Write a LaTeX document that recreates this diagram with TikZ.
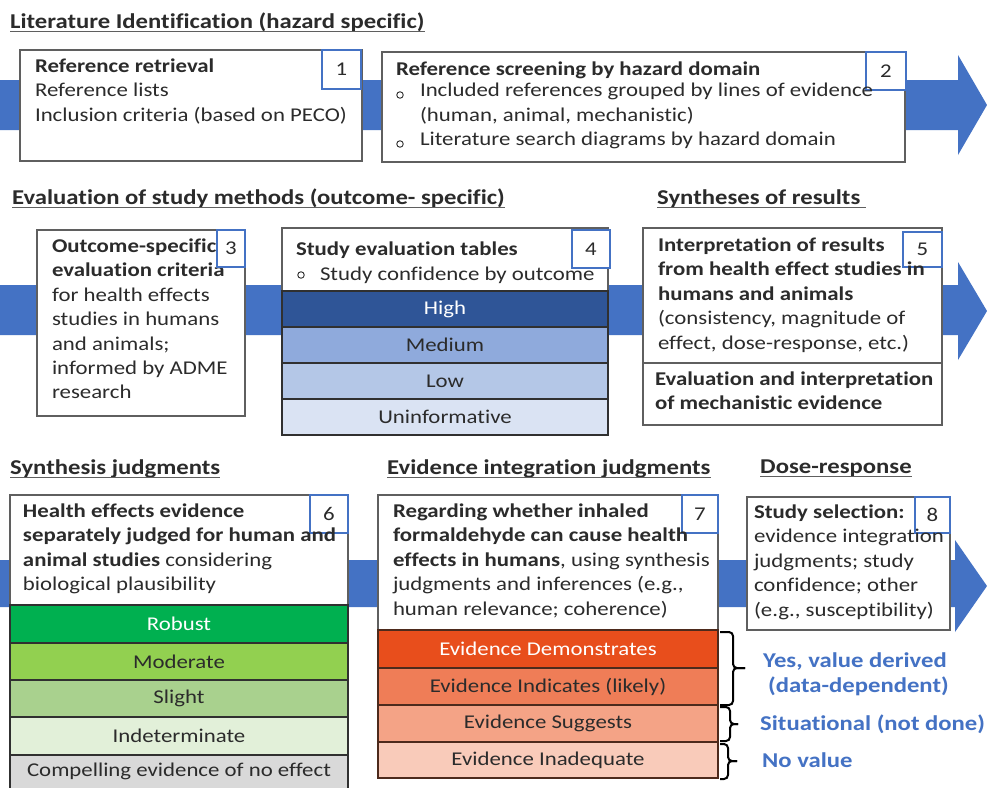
\documentclass[tikz,border=0pt]{standalone}
\usepackage{fontspec}
\setmainfont{Carlito}[FakeStretch=1.17, Ligatures=NoCommon]
\usetikzlibrary{calc}
\definecolor{band}{HTML}{4472C4}
\definecolor{bord}{HTML}{5F5F5F}
\definecolor{txt}{HTML}{2B2B2B}
\definecolor{rowline}{HTML}{303030}
\definecolor{rowlineb}{HTML}{4D2A1C}
\definecolor{cHigh}{HTML}{2F5597}
\definecolor{cMed}{HTML}{8FAADC}
\definecolor{cLow}{HTML}{B4C7E7}
\definecolor{cUn}{HTML}{DAE3F3}
\definecolor{cRob}{HTML}{00B050}
\definecolor{cMod}{HTML}{92D050}
\definecolor{cSli}{HTML}{A9D18E}
\definecolor{cInd}{HTML}{E2F0D9}
\definecolor{cCom}{HTML}{D9D9D9}
\definecolor{cDem}{HTML}{E84E1C}
\definecolor{cIndic}{HTML}{EF7D57}
\definecolor{cSug}{HTML}{F4A386}
\definecolor{cInad}{HTML}{F9CBBA}
\newcommand\fs{\fontsize{19.5}{24.4}\selectfont}
\newcommand\fh{\fontsize{21.1}{24.4}\selectfont}
\begin{document}
\begin{tikzpicture}[x=1pt,y=-1pt,
  box/.style={draw=bord, line width=1.4pt, fill=white, inner sep=0pt, outer sep=0pt, anchor=north west},
  numbox/.style={draw=band, line width=2pt, fill=white, inner sep=0pt, outer sep=0pt, anchor=north west, font=\fs, text=txt},
  blk/.style={anchor=north west, inner sep=0pt, outer sep=0pt, align=left, font=\fs, text=txt, execute at begin node=\strut},
  head/.style={anchor=base west, inner sep=0pt, font=\fh\bfseries, text=txt},
  uline/.style={draw=bord, line width=1.6pt},
  lvl/.style={draw=rowline, line width=1.3pt, inner sep=0pt, outer sep=0pt, anchor=north west, font=\fs, text=txt},
  lvlb/.style={lvl, draw=rowlineb},
  bul/.style={circle, draw=txt, line width=0.9pt, inner sep=0pt, minimum size=6.5pt},
  blab/.style={anchor=base west, inner sep=0pt, font=\fh\bfseries, text=band},
  bracestyle/.style={draw=black, line width=2pt, rounded corners=4pt},
  bandstyle/.style={fill=band, draw=none}
]
\useasboundingbox (0,0) rectangle (987,787);
\fill[white] (0,0) rectangle (987,787);

% ---------- bands ----------
\path[bandstyle] (0,80) -- (958,80) -- (958,55) -- (987,105) -- (958,155) -- (958,130) -- (0,130) -- cycle;
\path[bandstyle] (0,285) -- (958,285) -- (958,262) -- (987,311) -- (958,360) -- (958,335) -- (0,335) -- cycle;
\path[bandstyle] (0,560) -- (955,560) -- (955,540) -- (987,586) -- (955,632) -- (955,607) -- (0,607) -- cycle;

% ---------- headings ----------
\node[head] (h1) at (10,28) {Literature Identification (hazard specific)};
\node[head] (h2) at (12,204) {Evaluation of study methods (outcome- specific)};
\node[head] (h3) at (657,204) {Syntheses of results};
\node[head] (h4) at (10,474) {Synthesis judgments};
\node[head] (h5) at (387,474) {Evidence integration judgments};
\node[head] (h6) at (760,473) {Dose-response};
\foreach \h/\e in {h1/0,h2/0,h3/5,h4/0,h5/0,h6/0}{
  \draw[uline] ([yshift=-3.5pt]\h.base west) -- ([yshift=-3.5pt,xshift=\e pt]\h.base east);
}

% ---------- row 1 ----------
\node[box, minimum width=342pt, minimum height=111pt] (b1) at (20,50) {};
\node[numbox, minimum width=39pt, minimum height=39pt] (n1) at (322,50) {1};
\node[blk] (t1) at (35,58.9) {\textbf{Reference retrieval}\\Reference lists\\Inclusion criteria (based on PECO)};

\node[box, minimum width=523pt, minimum height=110pt] (b2) at (382,52) {};
\node[numbox, minimum width=40pt, minimum height=38pt] (n2) at (866,52) {2};
\node[blk] (t2a) at (396,58.9) {\textbf{Reference screening by hazard domain}};
\node[blk] (t2b) at (420,83.3) {Included references grouped by lines of evidence\\(human, animal, mechanistic)\\Literature search diagrams by hazard domain};
\node[bul] (u2a) at (400,95) {};
\node[bul] (u2b) at (400,144) {};

% ---------- row 2 ----------
\node[box, minimum width=208pt, minimum height=186pt] (b3) at (37,230) {};
\node[blk] (t3) at (52,238.9) {\textbf{Outcome-specific}\\\textbf{evaluation criteria}\\for health effects\\studies in humans\\and animals;\\informed by ADME\\research};
\node[numbox, minimum width=28pt, minimum height=37pt, fill=none] (n3) at (217,230) {3};

\node[box, minimum width=326pt, minimum height=207pt] (b4) at (282,228) {};
\node[lvl, fill=cHigh, text=white, minimum width=326pt, minimum height=36pt] (r4a) at (282,291) {High};
\node[lvl, fill=cMed, minimum width=326pt, minimum height=36pt] (r4b) at (282,327) {Medium};
\node[lvl, fill=cLow, minimum width=326pt, minimum height=36pt] (r4c) at (282,363) {Low};
\node[lvl, fill=cUn, minimum width=326pt, minimum height=36pt] (r4d) at (282,399) {Uninformative};
\node[numbox, minimum width=38pt, minimum height=38pt] (n4) at (572,230) {4};
\node[blk] (t4a) at (296,238.9) {\textbf{Study evaluation tables}};
\node[blk] (t4b) at (320,263) {Study confidence by outcome};
\node[bul] (u4) at (301,275) {};

\node[box, minimum width=299pt, minimum height=197pt] (b5) at (643,228) {};
\draw[draw=bord, line width=1.4pt] (b5.west |- 0,363) -- (b5.east |- 0,363);
\node[numbox, minimum width=39pt, minimum height=35pt] (n5) at (903,232) {5};
\node[blk] (t5a) at (658,237.9) {\textbf{Interpretation of results}\\\textbf{from health effect studies in}\\\textbf{humans and animals}\\(consistency, magnitude of\\effect, dose-response, etc.)};
\node[blk] (t5b) at (655,371.9) {\textbf{Evaluation and interpretation}\\\textbf{of mechanistic evidence}};

% ---------- row 3 ----------
\node[box, minimum width=338pt, minimum height=305pt] (b6) at (10,495) {};
\node[lvl, fill=cRob, text=white, minimum width=338pt, minimum height=38pt] (r6a) at (10,605) {Robust};
\node[lvl, fill=cMod, minimum width=338pt, minimum height=37pt] (r6b) at (10,643) {Moderate};
\node[lvl, fill=cSli, minimum width=338pt, minimum height=37pt] (r6c) at (10,680) {Slight};
\node[lvl, fill=cInd, minimum width=338pt, minimum height=38pt] (r6d) at (10,717) {Indeterminate};
\node[lvl, fill=cCom, minimum width=338pt, minimum height=45pt, text depth=16pt] (r6e) at (10,755) {Compelling evidence of no effect};
\node[numbox, minimum width=38pt, minimum height=38pt] (n6) at (310,495) {6};
\node[blk] (t6) at (23,503.9) {\textbf{Health effects evidence}\\\textbf{separately judged for human and}\\\textbf{animal studies} considering\\biological plausibility};

\node[box, minimum width=340pt, minimum height=283pt] (b7) at (378,495) {};
\node[lvlb, fill=cDem, text=white, minimum width=340pt, minimum height=38pt] (r7a) at (378,630) {Evidence Demonstrates};
\node[lvlb, fill=cIndic, minimum width=340pt, minimum height=37pt] (r7b) at (378,668) {Evidence Indicates (likely)};
\node[lvlb, fill=cSug, minimum width=340pt, minimum height=37pt] (r7c) at (378,705) {Evidence Suggests};
\node[lvlb, fill=cInad, minimum width=340pt, minimum height=36pt] (r7d) at (378,742) {Evidence Inadequate};
\node[numbox, minimum width=36pt, minimum height=38pt] (n7) at (682,495) {7};
\node[blk] (t7) at (393,503.9) {\textbf{Regarding whether inhaled}\\\textbf{formaldehyde can cause health}\\\textbf{effects in humans}, using synthesis\\judgments and inferences (e.g.,\\human relevance; coherence)};

\node[box, minimum width=203pt, minimum height=133pt] (b8) at (747,497) {};
\node[numbox, minimum width=35pt, minimum height=36pt] (n8) at (915,497) {8};
\node[blk] (t8) at (754,504.9) {\textbf{Study selection:}\\evidence integration\\judgments; study\\confidence; other\\(e.g., susceptibility)};

% ---------- braces ----------
\draw[bracestyle] (720,632) -- (733,632) -- (733,668) -- (745,668);
\draw[bracestyle] (745,668) -- (733,668) -- (733,705) -- (720,705);
\draw[bracestyle] (720,707) -- (730,707) -- (730,724) -- (738,724);
\draw[bracestyle] (738,724) -- (730,724) -- (730,741) -- (720,741);
\draw[bracestyle] (720,744) -- (728,744) -- (728,761) -- (737,761);
\draw[bracestyle] (737,761) -- (728,761) -- (728,779) -- (720,779);

% ---------- blue labels ----------
\node[blab] (l1) at (763,667) {Yes, value derived};
\node[blab] (l2) at (768,692) {(data-dependent)};
\node[blab] (l3) at (760,730) {Situational (not done)};
\node[blab] (l4) at (762,767) {No value};
\end{tikzpicture}
\end{document}
